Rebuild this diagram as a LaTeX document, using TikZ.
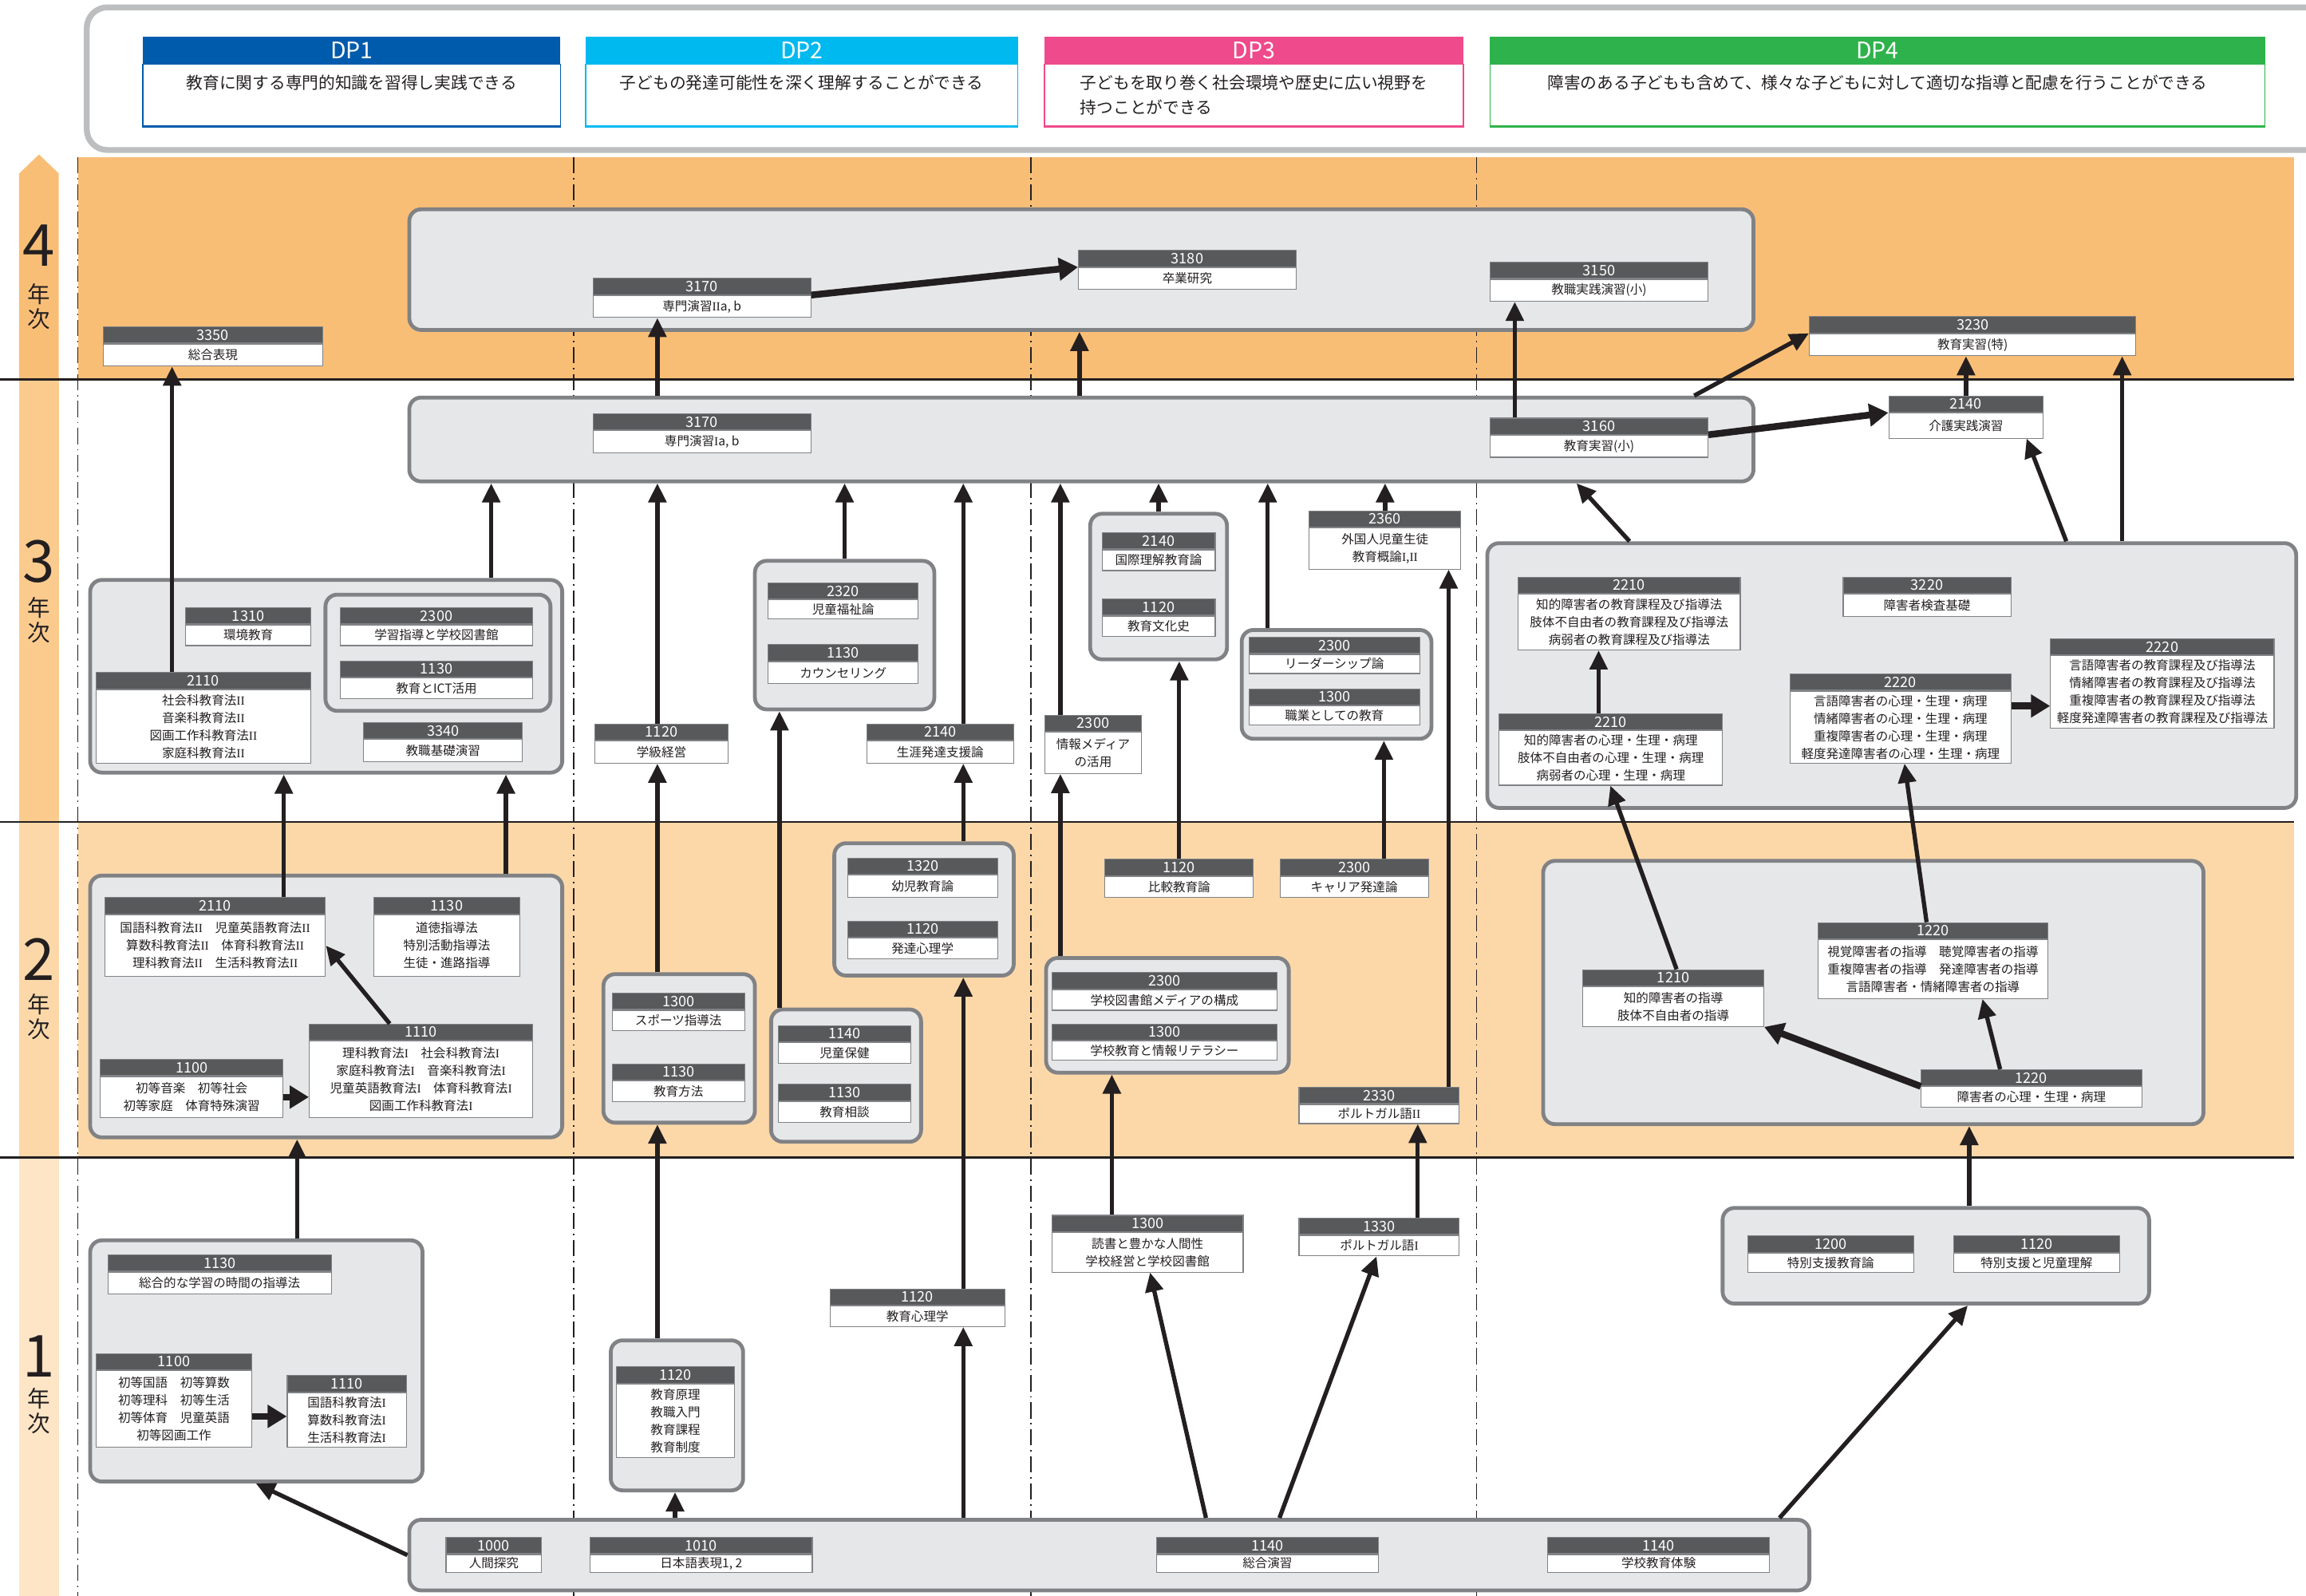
\documentclass[tikz,border=0pt]{standalone}
\usepackage{fontspec}
\setmainfont{Noto Sans CJK JP}
\newfontfamily\romnum{Liberation Serif}
\newcommand\RI{{\romnum I}}
\newcommand\RII{{\romnum II}}
\usetikzlibrary{arrows.meta}
\definecolor{rowfour}{HTML}{F9BE76}
\definecolor{rowtwo}{HTML}{FCD8A9}
\definecolor{barthree}{HTML}{FBCB8E}
\definecolor{barone}{HTML}{FEE5C6}
\definecolor{grpfill}{HTML}{E6E7E8}
\definecolor{grpline}{HTML}{808285}
\definecolor{hdrgray}{HTML}{58595B}
\definecolor{boxline}{HTML}{808285}
\definecolor{ink}{HTML}{231F20}
\definecolor{panelgray}{HTML}{BCBEC0}
\definecolor{dpone}{HTML}{005BAC}
\definecolor{dptwo}{HTML}{00B9EF}
\definecolor{dpthree}{HTML}{EF4A8B}
\definecolor{dpfour}{HTML}{2EB24B}
\newcommand\course[7]{%
  \node[hdr, minimum width=#4*0.5mm] (#1h) at (#2,#3) {#6};
  \node[bdy, minimum width=#4*0.5mm, minimum height=(#5-11)*0.5mm] (#1) at (#1h.south) {#7};}
\newcommand\grp[5]{%
  \node[grpbox, minimum width=(#4-#2)*0.5mm, minimum height=(#5-#3)*0.5mm] (#1) at (#2,#3) {};}
\begin{document}
\begin{tikzpicture}[x=0.5mm,y=-0.5mm,
  hdr/.style={anchor=north west, fill=hdrgray, draw=boxline, line width=0.3mm, text=white, inner sep=0pt, minimum height=5.5mm, font=\fontsize{14}{14}\selectfont},
  bdy/.style={anchor=north, fill=white, draw=boxline, line width=0.3mm, text=ink, inner sep=0pt, align=center, font=\fontsize{12}{17}\selectfont},
  grpbox/.style={anchor=north west, fill=grpfill, draw=grpline, line width=1.3mm, rounded corners=4mm, inner sep=0pt},
  arr/.style={draw=ink, line width=1.45mm, -{Triangle[length=6.5mm,width=6mm]}},
  tarr/.style={draw=ink, line width=2.3mm, -{Triangle[length=6.5mm,width=7.5mm]}},
  sepline/.style={draw=ink, line width=0.6mm},
  dashdot/.style={draw=ink, line width=0.4mm, dash pattern=on 5.5mm off 1.6mm on 0.5mm off 1.6mm},
  dphdr/.style={anchor=north west, text=white, inner sep=0pt, minimum height=9mm, font=\fontsize{22}{22}\selectfont},
  dpbody/.style={anchor=north, fill=white, line width=0.4mm, inner sep=0pt},
  dptext/.style={anchor=north, align=left, inner sep=0pt, text=ink, font=\fontsize{16}{24}\selectfont},
  yrnum/.style={inner sep=0pt, text=ink, font=\fontsize{56}{56}\selectfont},
  yrkanji/.style={inner sep=0pt, text=ink, font=\fontsize{22}{22}\selectfont}
]
\useasboundingbox (0,0) rectangle (1568,1085);
% ---------- backgrounds ----------
\fill[rowfour] (53,107) rectangle (1560,258);
\fill[rowtwo] (53,559) rectangle (1560,787);
\fill[rowfour] (13,118) -- (26.5,105) -- (40,118) -- (40,258) -- (13,258) -- cycle;
\fill[barthree] (13,258) rectangle (40,559);
\fill[rowtwo] (13,559) rectangle (40,787);
\fill[barone] (13,787) rectangle (40,1085);
\draw[sepline] (0,258) -- (1560,258);
\draw[sepline] (0,559) -- (1560,559);
\draw[sepline] (0,787) -- (1560,787);
\foreach \v in {53,390,701,1004} {\draw[dashdot] (\v,107) -- (\v,1085);}
% year labels
\node[yrnum] (y4n) at (26.5,167) {4};
\node[yrkanji] (y4a) at (26.5,200) {年};
\node[yrkanji] (y4b) at (26.5,217) {次};
\node[yrnum] (y3n) at (26.5,382) {3};
\node[yrkanji] (y3a) at (26.5,413) {年};
\node[yrkanji] (y3b) at (26.5,430) {次};
\node[yrnum] (y2n) at (26.5,652) {2};
\node[yrkanji] (y2a) at (26.5,683) {年};
\node[yrkanji] (y2b) at (26.5,700) {次};
\node[yrnum] (y1n) at (26.5,922) {1};
\node[yrkanji] (y1a) at (26.5,951) {年};
\node[yrkanji] (y1b) at (26.5,968) {次};
% ---------- DP panel ----------
\node[anchor=north west, draw=panelgray, fill=white, line width=2mm, rounded corners=7mm, minimum width=1600*0.5mm, minimum height=97*0.5mm] (panel) at (57,3) {};
\node[dphdr, fill=dpone, minimum width=284*0.5mm] (dp1h) at (97,25) {DP1};
\node[dpbody, draw=dpone, minimum width=284*0.5mm, minimum height=42*0.5mm] (dp1) at (dp1h.south) {};
\draw[dpone, line width=0.9mm] (dp1.south west) -- (dp1.south east);
\node[dptext] (dp1t) at (dp1.north |- 0,51) {教育に関する専門的知識を習得し実践できる};
\node[dphdr, fill=dptwo, minimum width=294*0.5mm] (dp2h) at (398,25) {DP2};
\node[dpbody, draw=dptwo, minimum width=294*0.5mm, minimum height=42*0.5mm] (dp2) at (dp2h.south) {};
\draw[dptwo, line width=0.9mm] (dp2.south west) -- (dp2.south east);
\node[dptext] (dp2t) at (dp2.north |- 0,51) {子どもの発達可能性を深く理解することができる};
\node[dphdr, fill=dpthree, minimum width=285*0.5mm] (dp3h) at (710,25) {DP3};
\node[dpbody, draw=dpthree, minimum width=285*0.5mm, minimum height=42*0.5mm] (dp3) at (dp3h.south) {};
\draw[dpthree, line width=0.9mm] (dp3.south west) -- (dp3.south east);
\node[dptext] (dp3t) at (dp3.north |- 0,51) {子どもを取り巻く社会環境や歴史に広い視野を\\持つことができる};
\node[dphdr, fill=dpfour, minimum width=527*0.5mm] (dp4h) at (1013,25) {DP4};
\node[dpbody, draw=dpfour, minimum width=527*0.5mm, minimum height=42*0.5mm] (dp4) at (dp4h.south) {};
\draw[dpfour, line width=0.9mm] (dp4.south west) -- (dp4.south east);
\node[dptext] (dp4t) at (dp4.north |- 0,51) {障害のある子どもも含めて、様々な子どもに対して適切な指導と配慮を行うことができる};
% ---------- groups ----------
\grp{G4}{277}{141}{1191}{223}
\grp{G3}{277}{269}{1191}{326}
\grp{G3a}{60}{393}{381}{524}
\grp{G3a2}{220}{403}{373}{482}
\grp{G3b}{512}{380}{634}{481}
\grp{G3c}{740}{348}{833}{447}
\grp{G3d}{843}{427}{972}{501}
\grp{G3e}{1010}{368}{1560}{548}
\grp{G2a}{60}{594}{381}{772}
\grp{G2b}{409}{661}{512}{762}
\grp{G2c}{523}{685}{625}{775}
\grp{G2d}{566}{572}{688}{662}
\grp{G2e}{710}{650}{875}{728}
\grp{G2f}{1048}{584}{1497}{763}
\grp{G1a}{60}{842}{286}{1006}
\grp{G1b}{414}{910}{504}{1012}
\grp{G1d}{1170}{820}{1460}{885}
\grp{G1e}{277}{1032}{1229}{1080}
% ---------- courses: year 4 ----------
\course{c3170b}{403}{189}{148}{26}{3170}{専門演習\RII a, b}
\course{c3180}{733}{170}{148}{26}{3180}{卒業研究}
\course{c3150}{1013}{178}{148}{26}{3150}{教職実践演習(小)}
\course{c3350}{70}{222}{149}{26}{3350}{総合表現}
\course{c3230}{1230}{215}{222}{26}{3230}{教育実習(特)}
% ---------- year 3 ----------
\course{c3170a}{403}{281}{148}{26}{3170}{専門演習\RI a, b}
\course{c3160}{1013}{284}{148}{26}{3160}{教育実習(小)}
\course{c2140k}{1284}{269}{105}{28}{2140}{介護実践演習}
\course{c1310}{126}{413}{85}{25}{1310}{環境教育}
\course{c2300g}{231}{413}{131}{25}{2300}{学習指導と学校図書館}
\course{c1130i}{231}{449}{131}{25}{1130}{教育とICT活用}
\course{c2110c}{65}{457}{146}{61}{2110}{社会科教育法\RII\\音楽科教育法\RII\\図画工作科教育法\RII\\家庭科教育法\RII}
\course{c3340}{247}{491}{108}{26}{3340}{教職基礎演習}
\course{c1120g}{404}{492}{91}{26}{1120}{学級経営}
\course{c2320}{522}{396}{102}{24}{2320}{児童福祉論}
\course{c1130k}{522}{438}{102}{26}{1130}{カウンセリング}
\course{c2140s}{589}{492}{100}{26}{2140}{生涯発達支援論}
\course{c2300i}{710}{486}{66}{39}{2300}{情報メディア\\の活用}
\course{c2140c}{749}{362}{77}{25}{2140}{国際理解教育論}
\course{c1120b}{749}{407}{77}{25}{1120}{教育文化史}
\course{c2300l}{849}{433}{116}{24}{2300}{リーダーシップ論}
\course{c1300s}{849}{468}{116}{24}{1300}{職業としての教育}
\course{c2360}{890}{347}{103}{39}{2360}{外国人児童生徒\\教育概論\RI,\RII}
\course{c2210e}{1032}{392}{151}{49}{2210}{知的障害者の教育課程及び指導法\\肢体不自由者の教育課程及び指導法\\病弱者の教育課程及び指導法}
\course{c3220}{1253}{392}{114}{26}{3220}{障害者検査基礎}
\course{c2210p}{1019}{485}{152}{48}{2210}{知的障害者の心理・生理・病理\\肢体不自由者の心理・生理・病理\\病弱者の心理・生理・病理}
\course{c2220p}{1217}{458}{150}{60}{2220}{言語障害者の心理・生理・病理\\情緒障害者の心理・生理・病理\\重複障害者の心理・生理・病理\\軽度発達障害者の心理・生理・病理}
\course{c2220e}{1394}{434}{152}{60}{2220}{言語障害者の教育課程及び指導法\\情緒障害者の教育課程及び指導法\\重複障害者の教育課程及び指導法\\軽度発達障害者の教育課程及び指導法}
% ---------- year 2 ----------
\course{c2110b}{71}{610}{150}{53}{2110}{国語科教育法\RII　児童英語教育法\RII\\算数科教育法\RII　体育科教育法\RII\\理科教育法\RII　生活科教育法\RII}
\course{c1130d}{254}{610}{99}{53}{1130}{道徳指導法\\特別活動指導法\\生徒・進路指導}
\course{c1100b}{68}{720}{124}{39}{1100}{初等音楽　初等社会\\初等家庭　体育特殊演習}
\course{c1110b}{210}{696}{152}{63}{1110}{理科教育法\RI　社会科教育法\RI\\家庭科教育法\RI　音楽科教育法\RI\\児童英語教育法\RI　体育科教育法\RI\\図画工作科教育法\RI}
\course{c1300p}{416}{675}{90}{25}{1300}{スポーツ指導法}
\course{c1130m}{416}{723}{90}{25}{1130}{教育方法}
\course{c1140h}{529}{697}{90}{25}{1140}{児童保健}
\course{c1130s}{529}{737}{90}{25}{1130}{教育相談}
\course{c1320}{576}{583}{102}{26}{1320}{幼児教育論}
\course{c1120d}{576}{626}{102}{25}{1120}{発達心理学}
\course{c1120h}{751}{584}{101}{25}{1120}{比較教育論}
\course{c2300k}{870}{584}{101}{25}{2300}{キャリア発達論}
\course{c2300m}{715}{661}{153}{25}{2300}{学校図書館メディアの構成}
\course{c1300j}{715}{696}{153}{24}{1300}{学校教育と情報リテラシー}
\course{c2330}{883}{739}{109}{24}{2330}{ポルトガル語\RII}
\course{c1210}{1076}{659}{123}{38}{1210}{知的障害者の指導\\肢体不自由者の指導}
\course{c1220v}{1236}{627}{156}{51}{1220}{視覚障害者の指導　聴覚障害者の指導\\重複障害者の指導　発達障害者の指導\\言語障害者・情緒障害者の指導}
\course{c1220p}{1306}{727}{150}{25}{1220}{障害者の心理・生理・病理}
% ---------- year 1 ----------
\course{c1130t}{73}{853}{152}{26}{1130}{総合的な学習の時間の指導法}
\course{c1100a}{65}{920}{106}{63}{1100}{初等国語　初等算数\\初等理科　初等生活\\初等体育　児童英語\\初等図画工作}
\course{c1110a}{195}{935}{81}{48}{1110}{国語科教育法\RI\\算数科教育法\RI\\生活科教育法\RI}
\course{c1120p}{419}{929}{80}{61}{1120}{教育原理\\教職入門\\教育課程\\教育制度}
\course{c1120e}{564}{876}{119}{25}{1120}{教育心理学}
\course{c1300r}{715}{826}{130}{38}{1300}{読書と豊かな人間性\\学校経営と学校図書館}
\course{c1330}{883}{828}{109}{25}{1330}{ポルトガル語\RI}
\course{c1200}{1188}{840}{113}{24}{1200}{特別支援教育論}
\course{c1120t}{1328}{840}{113}{24}{1120}{特別支援と児童理解}
\course{c1000}{303}{1045}{65}{23}{1000}{人間探究}
\course{c1010}{401}{1045}{151}{23}{1010}{日本語表現1, 2}
\course{c1140s}{786}{1045}{151}{23}{1140}{総合演習}
\course{c1140t}{1052}{1045}{151}{23}{1140}{学校教育体験}
% ---------- helper coordinates ----------
\foreach \v in {117,174,193,202,265,334,344,447,459,530,655,721,734,756,782,820,862,870,936,941,964,985,1030,1072,1087,1095,1108,1140,1152,1210,1295,1310,1338,1339,1348,1360,1378,1405,1443} {\coordinate (x\v) at (\v,0);}
\coordinate (y480) at (0,480);
\coordinate (y963) at (0,963);
% ---------- connectors: year 4 ----------
\draw[arr] (G3.north -| x447) -- (c3170b.south -| x447);
\draw[arr] (G3.north -| x734) -- (G4.south -| x734);
\draw[arr] (c3160h.north -| x1030) -- (c3150.south -| x1030);
\draw[arr] (G3.north -| x1152) -- (c3230.north west);
\draw[arr] (c2140kh.north) -- (c2140kh.north |- c3230.south);
\draw[arr] (G3e.north -| x1443) -- (c3230.south -| x1443);
\draw[arr] (c2110ch.north -| x117) -- (c3350.south -| x117);
\draw[tarr] (c3170bh.south east) -- (c3180h.south west);
% ---------- year 3 ----------
\draw[arr] (G3a.north -| x334) -- (G3.south -| x334);
\draw[arr] (c1120gh.north -| x447) -- (G3.south -| x447);
\draw[arr] (G3b.north) -- (G3.south -| G3b.north);
\draw[arr] (c2140sh.north -| x655) -- (G3.south -| x655);
\draw[arr] (c2300ih.north -| x721) -- (G3.south -| x721);
\draw[arr] (G3c.north) -- (G3.south -| G3c.north);
\draw[arr] (G3d.north -| x862) -- (G3.south -| x862);
\draw[arr] (c2360h.north) -- (G3.south -| c2360h.north);
\draw[arr] (G3e.north -| x1108) -- (G3.south -| x1072);
\draw[arr] (G3e.north -| x1405) -- (c2140k.south -| x1378);
\draw[tarr] (c3160.north east) -- (c2140k.north west);
\draw[arr] (c2210ph.north -| x1087) -- (c2210e.south -| x1087);
\draw[tarr] (c2220p.east |- y480) -- (c2220e.west |- y480);
% ---------- year 2 ----------
\draw[arr] (c2110bh.north -| x193) -- (G3a.south -| x193);
\draw[arr] (G2a.north -| x344) -- (G3a.south -| x344);
\draw[arr] (G2b.north -| x447) -- (c1120g.south -| x447);
\draw[arr] (G2c.north -| x530) -- (G3b.south -| x530);
\draw[arr] (G2d.north -| x655) -- (c2140s.south -| x655);
\draw[arr] (G2e.north -| x721) -- (c2300i.south -| x721);
\draw[arr] (c1120hh.north) -- (G3c.south -| c1120hh.north);
\draw[arr] (c2300kh.north -| x941) -- (G3d.south -| x941);
\draw[arr] (c2330h.north -| x985) -- (c2360.south -| x985);
\draw[arr] (c1210h.north -| x1140) -- (c2210p.south -| x1095);
\draw[arr] (c1220vh.north -| x1310) -- (c2220p.south -| x1295);
\draw[tarr] (c1220ph.south west) -- (c1210.south east);
\draw[arr] (c1220ph.north -| x1360) -- (c1220v.south -| x1348);
\draw[tarr] (c1100b.east) -- (c1110b.west |- c1100b.east);
\draw[arr] (c1110bh.north -| x265) -- (c2110b.east);
% ---------- year 1 ----------
\draw[arr] (G1a.north -| x202) -- (G2a.south -| x202);
\draw[arr] (G1b.north -| x447) -- (G2b.south -| x447);
\draw[arr] (c1120eh.north -| x655) -- (G2d.south -| x655);
\draw[arr] (c1300rh.north -| x756) -- (G2e.south -| x756);
\draw[arr] (c1330h.north -| x964) -- (c2330.south -| x964);
\draw[arr] (G1d.north -| x1339) -- (G2f.south -| x1339);
\draw[arr] (G1e.north -| x459) -- (G1b.south -| x459);
\draw[arr] (G1e.north -| x655) -- (c1120e.south -| x655);
\draw[arr] (G1e.north -| x820) -- (c1300r.south -| x782);
\draw[arr] (G1e.north -| x870) -- (c1330.south -| x936);
\draw[arr] (G1e.north -| x1210) -- (G1d.south -| x1338);
\draw[arr] (G1e.west) -- (G1a.south -| x174);
\draw[tarr] (c1100a.east |- y963) -- (c1110a.west |- y963);
\end{tikzpicture}
\end{document}
